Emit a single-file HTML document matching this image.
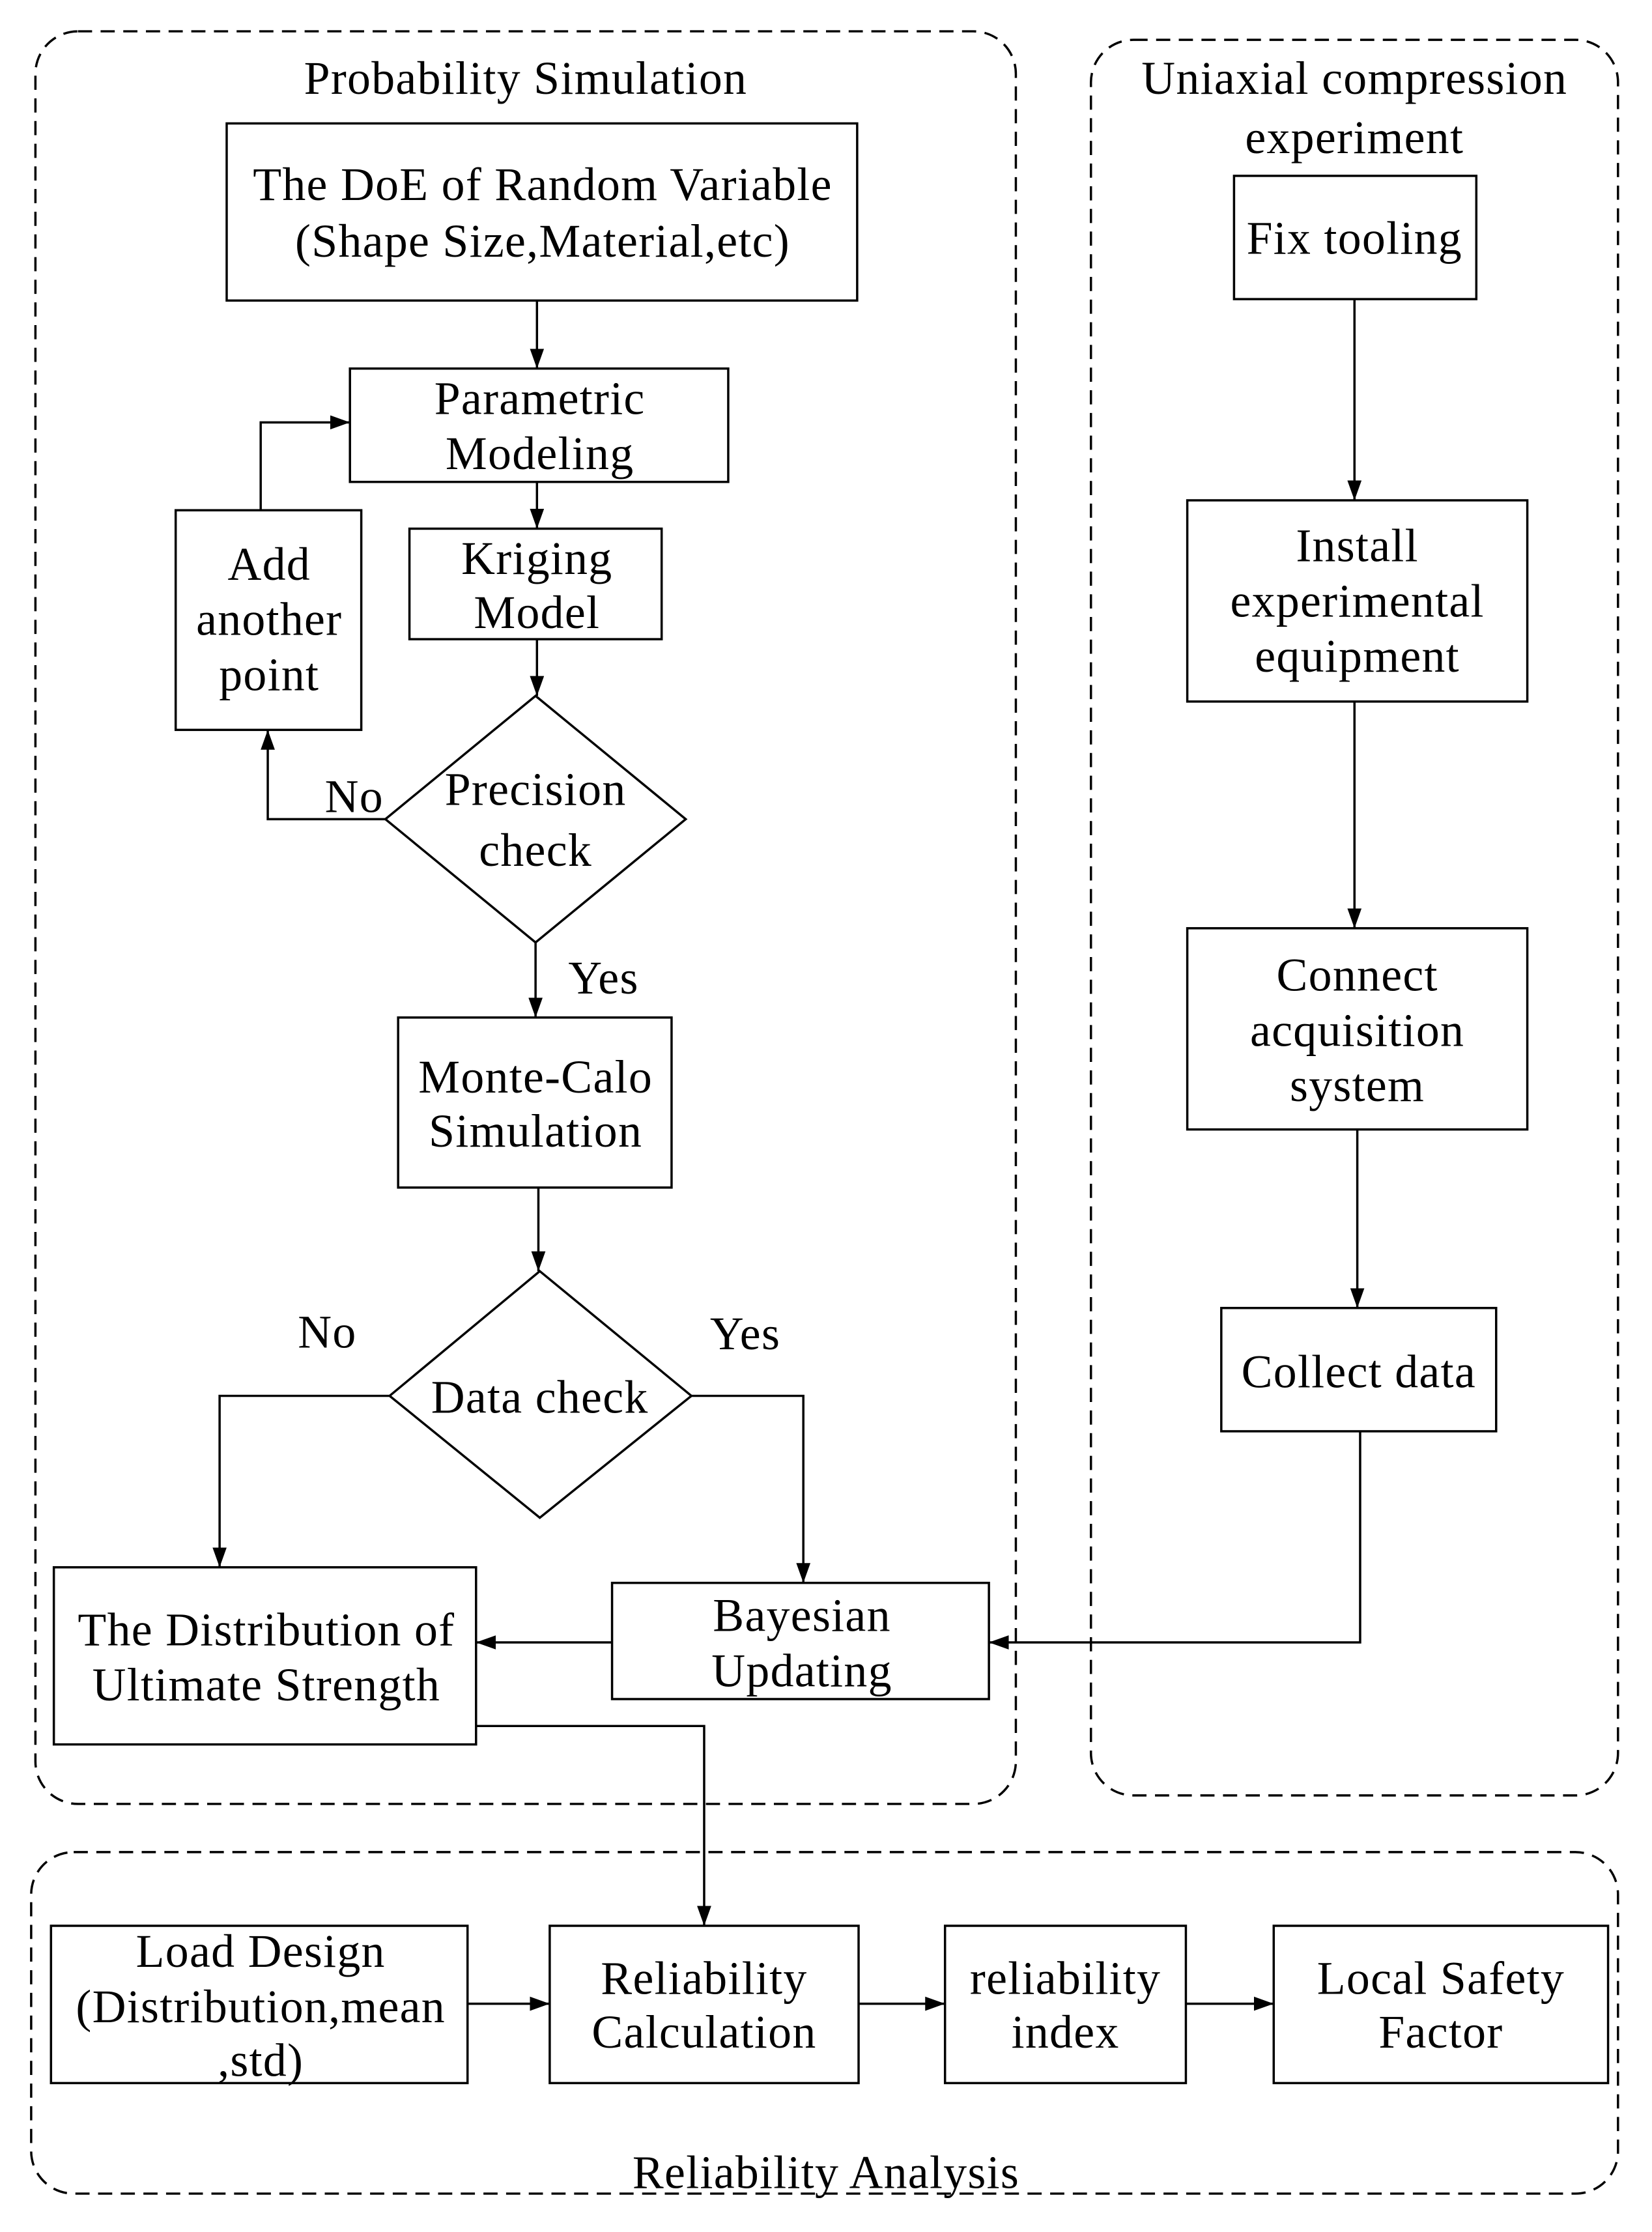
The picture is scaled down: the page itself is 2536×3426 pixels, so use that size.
<!DOCTYPE html>
<html><head><meta charset="utf-8"><style>
html,body{margin:0;padding:0;background:#fff;}
svg{display:block;}
text{font-family:"Liberation Serif",serif;font-size:33px;letter-spacing:0.6px;fill:#000;text-anchor:middle;dominant-baseline:central;}
</style></head><body>
<svg width="2536" height="3426" viewBox="0 0 1166 1575" xmlns="http://www.w3.org/2000/svg">
<defs>
<marker id="a" markerWidth="14" markerHeight="10" refX="14" refY="5" orient="auto" markerUnits="userSpaceOnUse">
<path d="M0,0 L14,5 L0,10 Z" fill="#000"/>
</marker>
</defs>
<g fill="none" stroke="#000" stroke-width="1.6">
<rect x="25" y="22" width="692" height="1251" rx="30" stroke-dasharray="10,6"/>
<rect x="770" y="28" width="372" height="1239" rx="30" stroke-dasharray="10,6"/>
<rect x="22" y="1307" width="1120" height="241" rx="30" stroke-dasharray="10,6"/>
<rect x="160" y="87" width="445" height="125"/>
<rect x="247" y="260" width="267" height="80"/>
<rect x="289" y="373" width="178" height="78"/>
<rect x="124" y="360" width="131" height="155"/>
<polygon points="378,491 484,578 378,665 272,578"/>
<rect x="281" y="718" width="193" height="120"/>
<polygon points="381,897 488,985 381,1071 275,985"/>
<rect x="38" y="1106" width="298" height="125"/>
<rect x="432" y="1117" width="266" height="82"/>
<rect x="871" y="124" width="171" height="87"/>
<rect x="838" y="353" width="240" height="142"/>
<rect x="838" y="655" width="240" height="142"/>
<rect x="862" y="923" width="194" height="87"/>
<rect x="36" y="1359" width="294" height="111"/>
<rect x="388" y="1359" width="218" height="111"/>
<rect x="667" y="1359" width="170" height="111"/>
<rect x="899" y="1359" width="236" height="111"/>
<path d="M379,212 V260" marker-end="url(#a)"/>
<path d="M379,340 V373" marker-end="url(#a)"/>
<path d="M379,451 V491" marker-end="url(#a)"/>
<path d="M272,578 H189 V515" marker-end="url(#a)"/>
<path d="M184,360 V298 H247" marker-end="url(#a)"/>
<path d="M378,665 V718" marker-end="url(#a)"/>
<path d="M380,838 V897" marker-end="url(#a)"/>
<path d="M275,985 H155 V1106" marker-end="url(#a)"/>
<path d="M488,985 H567 V1117" marker-end="url(#a)"/>
<path d="M432,1159 H336" marker-end="url(#a)"/>
<path d="M960,1010 V1159 H698" marker-end="url(#a)"/>
<path d="M336,1218 H497 V1359" marker-end="url(#a)"/>
<path d="M956,211 V353" marker-end="url(#a)"/>
<path d="M956,495 V655" marker-end="url(#a)"/>
<path d="M958,797 V923" marker-end="url(#a)"/>
<path d="M330,1414 H388" marker-end="url(#a)"/>
<path d="M606,1414 H667" marker-end="url(#a)"/>
<path d="M837,1414 H899" marker-end="url(#a)"/>
</g>
<text x="371" y="55">Probability Simulation</text>
<text x="956" y="55">Uniaxial compression</text>
<text x="956" y="97">experiment</text>
<text x="383" y="130">The DoE of Random Variable</text>
<text x="383" y="170">(Shape Size,Material,etc)</text>
<text x="381" y="281">Parametric</text>
<text x="381" y="320">Modeling</text>
<text x="379" y="394">Kriging</text>
<text x="379" y="432">Model</text>
<text x="190" y="398">Add</text>
<text x="190" y="437">another</text>
<text x="190" y="476">point</text>
<text x="378" y="557">Precision</text>
<text x="378" y="600">check</text>
<text x="250" y="562">No</text>
<text x="426" y="690">Yes</text>
<text x="378" y="760">Monte-Calo</text>
<text x="378" y="798">Simulation</text>
<text x="381" y="986">Data check</text>
<text x="231" y="940">No</text>
<text x="526" y="941">Yes</text>
<text x="188" y="1150">The Distribution of</text>
<text x="188" y="1189">Ultimate Strength</text>
<text x="566" y="1140">Bayesian</text>
<text x="566" y="1179">Updating</text>
<text x="956" y="168">Fix tooling</text>
<text x="958" y="385">Install</text>
<text x="958" y="424">experimental</text>
<text x="958" y="463">equipment</text>
<text x="958" y="688">Connect</text>
<text x="958" y="727">acquisition</text>
<text x="958" y="766">system</text>
<text x="959" y="968">Collect data</text>
<text x="184" y="1377">Load Design</text>
<text x="184" y="1416">(Distribution,mean</text>
<text x="184" y="1454">,std)</text>
<text x="497" y="1396">Reliability</text>
<text x="497" y="1434">Calculation</text>
<text x="752" y="1396">reliability</text>
<text x="752" y="1434">index</text>
<text x="1017" y="1396">Local Safety</text>
<text x="1017" y="1434">Factor</text>
<text x="583" y="1533">Reliability Analysis</text>
</svg>
</body></html>
